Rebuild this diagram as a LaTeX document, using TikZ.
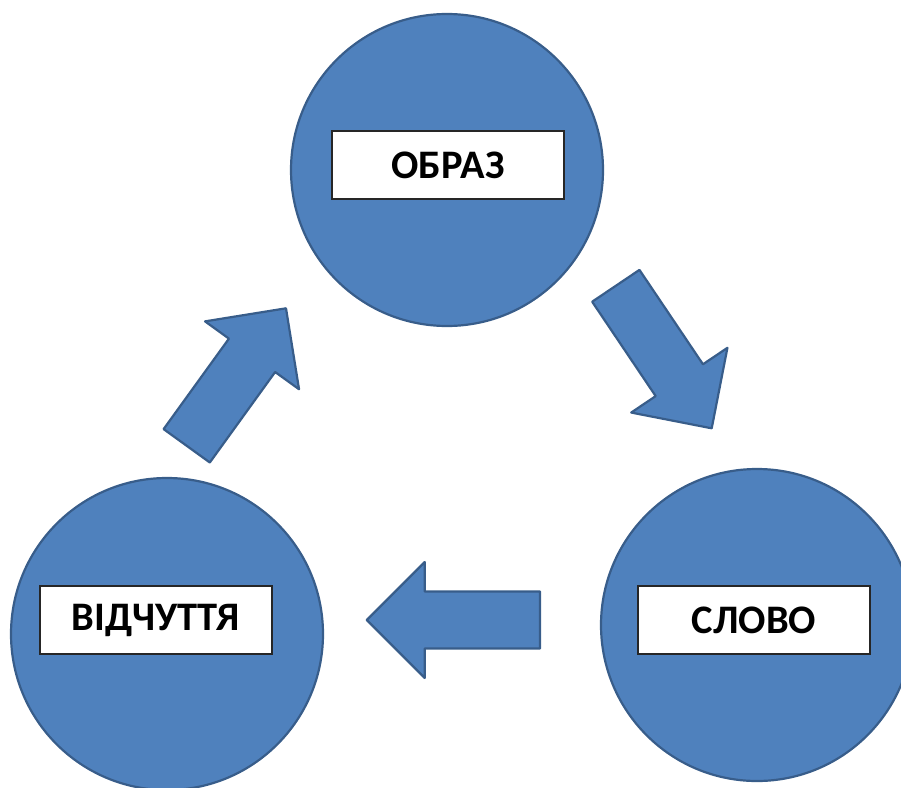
\documentclass[tikz,border=0pt]{standalone}
\usepackage{fontspec}
\setmainfont{Carlito}
\usetikzlibrary{calc}
\definecolor{stagefill}{HTML}{4F81BD}
\definecolor{stageline}{HTML}{385D8A}

% block arrow from a tail point to a tip point
\newcommand{\blockarrow}[2]{%
  \coordinate (neck) at ($(#2)!58pt!(#1)$);
  \filldraw[flow] ($(#1)!28.5pt!90:(#2)$) -- ($(neck)!28.5pt!90:(#2)$)
    -- ($(neck)!58pt!90:(#2)$) -- (#2) -- ($(neck)!58pt!-90:(#2)$)
    -- ($(neck)!28.5pt!-90:(#2)$) -- ($(#1)!28.5pt!-90:(#2)$) -- cycle;}

\begin{document}
\begin{tikzpicture}[x=1pt,y=-1pt]
    \tikzstyle{stage}=[circle,fill=stagefill,draw=stageline,line width=2.2pt,minimum size=312pt,inner sep=0pt]
    \tikzstyle{caption}=[rectangle,fill=white,draw=black!85,line width=1.3pt,minimum width=232pt,minimum height=68pt,inner sep=0pt,font=\fontsize{40.5}{42}\selectfont\bfseries]
    \tikzstyle{flow}=[fill=stagefill,draw=stageline,line width=2.2pt,line join=round]
    \useasboundingbox (0,0) rectangle (901,787);

    \node[stage] (image) at (447,170) {};
    \node[stage] (feeling) at (167,634) {};
    \node[stage] (word) at (757,625) {};

    \node[caption] (imagelabel) at (448,165) {\raisebox{-2pt}{ОБРАЗ}};
    \node[caption] (feelinglabel) at (156,620) {\raisebox{-2pt}{ВІДЧУТТЯ}};
    \node[caption] (wordlabel) at (754,620) {\raisebox{-2pt}{СЛОВО}};

    \coordinate (upTail) at (186.7,445.8);
    \coordinate (upTip) at (286,308.3);
    \coordinate (downTail) at (615.8,285.8);
    \coordinate (downTip) at (711.7,428.3);
    \coordinate (backTail) at (540,620);
    \coordinate (backTip) at (366.7,620);

    \blockarrow{upTail}{upTip}
    \blockarrow{downTail}{downTip}
    \blockarrow{backTail}{backTip}
\end{tikzpicture}
\end{document}
